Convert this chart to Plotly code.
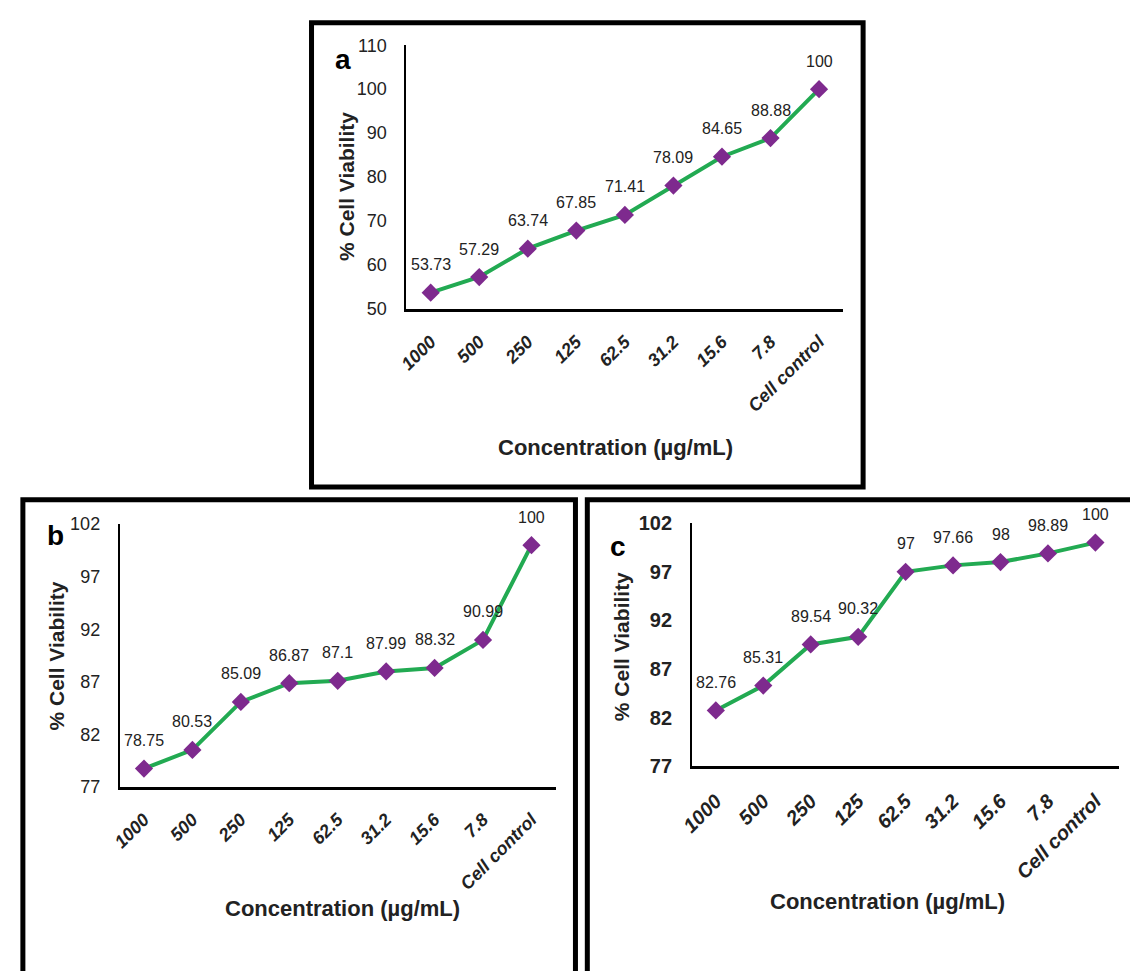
import plotly.graph_objects as go

# Concentrations tested (µg/mL) plus untreated control
categories = ["1000", "500", "250", "125", "62.5", "31.2", "15.6", "7.8", "Cell control"]

# % cell viability for each panel
viability_a = [53.73, 57.29, 63.74, 67.85, 71.41, 78.09, 84.65, 88.88, 100]
viability_b = [78.75, 80.53, 85.09, 86.87, 87.1, 87.99, 88.32, 90.99, 100]
viability_c = [82.76, 85.31, 89.54, 90.32, 97, 97.66, 98, 98.89, 100]

# y-axis tick values
ticks_a = [50, 60, 70, 80, 90, 100, 110]
ticks_b = [77, 82, 87, 92, 97, 102]
ticks_c = [77, 82, 87, 92, 97, 102]

W, H = 1130, 971
LINE = "#22AA52"
MARK = "#7E2A8E"
SANS = "Liberation Sans, Arial, sans-serif"


def px(x):
    return x / W


def py(y):
    return 1 - y / H


panels = [
    dict(name="a", data=viability_a, ticks=ticks_a, xr=(398, 840), yr=(35, 305),
         ytitle=(338, 180), xtitle=(610, 447), letter=(334, 50),
         box=(302, 12, 860, 487), xfont=18, yfont=dict(size=18, family=SANS, color="#222")),
    dict(name="b", data=viability_b, ticks=ticks_b, xr=(108, 549), yr=(525, 794),
         ytitle=(44, 660), xtitle=(333, 918), letter=(43, 537),
         box=(10, 500, 569, 990), xfont=18, yfont=dict(size=18, family=SANS, color="#222")),
    dict(name="c", data=viability_c, ticks=ticks_c, xr=(687, 1119), yr=(524, 773),
         ytitle=(615, 650), xtitle=(885, 911), letter=(612, 548),
         box=(581, 500, 1140, 990), xfont=20,
         yfont=dict(size=20, family=SANS, color="#222", weight="bold")),
]

fig = go.Figure()
annotations = []
shapes = []

for i, p in enumerate(panels, start=1):
    xa = "x" if i == 1 else f"x{i}"
    ya = "y" if i == 1 else f"y{i}"
    fig.add_trace(go.Scatter(
        x=categories, y=p["data"], xaxis=xa, yaxis=ya,
        mode="lines+markers",
        line=dict(color=LINE, width=4),
        marker=dict(symbol="diamond", size=14, color=MARK),
        cliponaxis=False, showlegend=False, hoverinfo="skip",
    ))
    # value labels above each point (category index used as x position)
    for k, v in enumerate(p["data"]):
        annotations.append(dict(
            x=k, y=v, xref=xa, yref=ya, text=f"{v:g}", showarrow=False,
            xanchor="center", yanchor="middle", yshift=28,
            font=dict(size=16, family=SANS, color="#222"),
        ))

    lo, hi = p["ticks"][0], p["ticks"][-1]
    key = "" if i == 1 else str(i)
    fig.update_layout(**{
        f"xaxis{key}": dict(
            domain=[px(p["xr"][0]), px(p["xr"][1])], anchor=ya,
            type="category", categoryorder="array", categoryarray=categories,
            range=[-0.5, len(categories) - 0.5],
            showline=True, linecolor="black", linewidth=3,
            showgrid=False, zeroline=False, ticks="",
            tickangle=-45,
            tickfont=dict(size=p["xfont"], family=SANS, color="#222",
                          weight="bold", style="italic"),
            ticklabelstandoff=12,
        ),
        f"yaxis{key}": dict(
            domain=[py(p["yr"][1]), py(p["yr"][0])], anchor=xa,
            range=[lo, hi], tickvals=p["ticks"],
            showline=True, linecolor="black", linewidth=2,
            showgrid=False, zeroline=False, ticks="",
            tickfont=p["yfont"], ticklabelstandoff=14,
        ),
    })

    # panel frame
    bx0, by0, bx1, by1 = p["box"]
    shapes.append(dict(type="rect", xref="paper", yref="paper",
                       x0=px(bx0), x1=px(bx1), y0=py(by1), y1=py(by0),
                       line=dict(color="black", width=5)))

    common = dict(xref="paper", yref="paper", showarrow=False,
                  xanchor="center", yanchor="middle")
    annotations.append(dict(
        x=px(p["letter"][0]), y=py(p["letter"][1]),
        text=f"<b>{p['name']}</b>", font=dict(size=28, family=SANS, color="black"),
        **common,
    ))
    annotations.append(dict(
        x=px(p["ytitle"][0]), y=py(p["ytitle"][1]),
        text="<b>% Cell Viability</b>", textangle=-90,
        font=dict(size=21, family=SANS, color="#222"), **common,
    ))
    annotations.append(dict(
        x=px(p["xtitle"][0]), y=py(p["xtitle"][1]),
        text="<b>Concentration (µg/mL)</b>",
        font=dict(size=22, family=SANS, color="#222"), **common,
    ))

fig.update_layout(
    width=W, height=H, margin=dict(l=0, r=0, t=0, b=0),
    paper_bgcolor="white", plot_bgcolor="white",
    annotations=annotations, shapes=shapes,
)

fig.write_html(
    "out.html",
    config={"displayModeBar": False},
    post_script="document.body.style.margin='0';document.body.style.overflow='hidden';",
)
